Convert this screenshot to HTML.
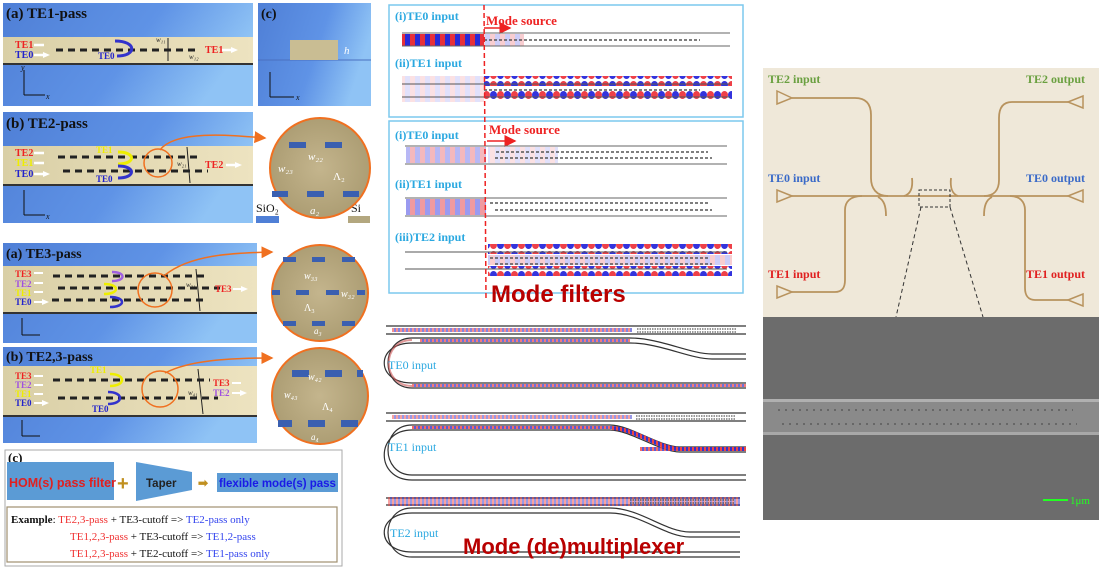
<!DOCTYPE html>
<html><head><meta charset="utf-8"><style>
html,body{margin:0;padding:0;background:#fff;}
svg{display:block}
text{font-family:"Liberation Serif",serif;}
.s{font-family:"Liberation Sans",sans-serif;}
</style></head><body>
<svg width="1102" height="571" viewBox="0 0 1102 571" xmlns="http://www.w3.org/2000/svg">
<defs>
<linearGradient id="bg" x1="0" y1="0" x2="1" y2="0.3">
<stop offset="0" stop-color="#4f7fd6"/><stop offset="0.6" stop-color="#5f93e6"/><stop offset="1" stop-color="#8fc3f5"/></linearGradient>
<linearGradient id="wg" x1="0" y1="0" x2="1" y2="0">
<stop offset="0" stop-color="#d9cfa6"/><stop offset="1" stop-color="#ede3c0"/></linearGradient>
<radialGradient id="cg" cx="0.5" cy="0.5" r="0.6"><stop offset="0" stop-color="#c4b58d"/><stop offset="1" stop-color="#a8996f"/></radialGradient>
<pattern id="f1" width="10" height="14" patternUnits="userSpaceOnUse">
<rect width="5" height="14" fill="#e8303a"/><rect x="5" width="5" height="14" fill="#2a2ad8"/></pattern>
<pattern id="f2" width="14" height="10" patternUnits="userSpaceOnUse">
<ellipse cx="3.5" cy="5" rx="3.5" ry="4" fill="#ee4048"/><ellipse cx="10.5" cy="5" rx="3.5" ry="4" fill="#3333dd"/></pattern>
<pattern id="f2b" width="14" height="10" patternUnits="userSpaceOnUse">
<ellipse cx="10.5" cy="5" rx="3.5" ry="4" fill="#ee4048"/><ellipse cx="3.5" cy="5" rx="3.5" ry="4" fill="#3333dd"/></pattern>
<pattern id="fw" width="10" height="8" patternUnits="userSpaceOnUse">
<rect width="5" height="8" fill="#f09aa0"/><rect x="5" width="5" height="8" fill="#9a9af0"/></pattern>
<pattern id="fs" width="4" height="6" patternUnits="userSpaceOnUse">
<rect width="2" height="6" fill="#e44"/><rect x="2" width="2" height="6" fill="#33c"/></pattern>
<marker id="ao" markerWidth="8" markerHeight="8" refX="7" refY="4" orient="auto"><path d="M0,0L8,4L0,8z" fill="#f07020"/></marker>
<marker id="ar" markerWidth="8" markerHeight="8" refX="7" refY="4" orient="auto"><path d="M0,0L8,4L0,8z" fill="#e22"/></marker>
<marker id="aw" markerUnits="userSpaceOnUse" markerWidth="7" markerHeight="6" refX="1" refY="3" orient="auto"><path d="M0,0L7,3L0,6z" fill="#fff"/></marker>
</defs>

<!-- (a) TE1-pass -->
<rect x="3" y="3" width="250" height="103" fill="url(#bg)"/>
<rect x="3" y="37" width="250" height="26" fill="url(#wg)"/><rect x="3" y="63" width="250" height="2" fill="#333"/>
<text x="6" y="18" font-size="15" font-weight="bold" fill="#111">(a) TE1-pass</text>
<line x1="56" y1="50" x2="200" y2="50" stroke="#222" stroke-width="3" stroke-dasharray="7,5"/>
<text x="15" y="48" font-size="10" font-weight="bold" fill="#e22">TE1</text><text x="15" y="58" font-size="10" font-weight="bold" fill="#22c">TE0</text>
<path d="M34,45h10M34,55h10" stroke="#fff" stroke-width="2.5" marker-end="url(#aw)"/>
<text x="98" y="59" font-size="9" font-weight="bold" fill="#22c">TE0</text><text x="205" y="53" font-size="10" font-weight="bold" fill="#e22">TE1</text>
<path d="M222,50h10" stroke="#fff" stroke-width="2.5" marker-end="url(#aw)"/>
<path d="M115,41c22,0 22,15 2,15" fill="none" stroke="#33c" stroke-width="3"/>
<line x1="168" y1="38" x2="168" y2="61" stroke="#222"/>
<text x="156" y="42" font-size="7" font-style="italic" fill="#222">w₁₁</text><text x="189" y="59" font-size="7" font-style="italic" fill="#222">w₁₂</text>
<path d="M24,95V70M24,95H45" stroke="#111" stroke-width="1"/><text x="46" y="99" font-size="8" font-style="italic" fill="#111">x</text><text x="21" y="70" font-size="8" font-style="italic" fill="#111">y</text>
<!-- (c) cross section -->
<rect x="258" y="3" width="113" height="103" fill="url(#bg)"/>
<line x1="258" y1="60" x2="371" y2="60" stroke="#4a70c0"/>
<rect x="290" y="40" width="48" height="20" fill="#c9bd93"/>
<text x="261" y="18" font-size="14" font-weight="bold" fill="#111">(c)</text>
<text x="344" y="54" font-size="11" font-style="italic" fill="#fff">h</text>
<path d="M270,97V72M270,97H294" stroke="#111"/><text x="296" y="100" font-size="8" font-style="italic" fill="#111">x</text>
<!-- (b) TE2-pass -->
<rect x="3" y="112" width="250" height="111" fill="url(#bg)"/>
<rect x="3" y="146" width="250" height="38" fill="url(#wg)"/><rect x="3" y="184" width="250" height="2" fill="#333"/>
<text x="6" y="128" font-size="15" font-weight="bold" fill="#111">(b) TE2-pass</text>
<line x1="58" y1="157" x2="200" y2="157" stroke="#222" stroke-width="3" stroke-dasharray="7,5"/>
<line x1="63" y1="171" x2="208" y2="171" stroke="#222" stroke-width="3" stroke-dasharray="7,5"/>
<text x="15" y="156" font-size="10" font-weight="bold" fill="#e22">TE2</text><text x="15" y="166" font-size="10" font-weight="bold" fill="#ee0">TE1</text><text x="15" y="177" font-size="10" font-weight="bold" fill="#22c">TE0</text>
<path d="M34,153h10M34,163h10M34,174h10" stroke="#fff" stroke-width="2.5" marker-end="url(#aw)"/>
<path d="M118,152c18,0 18,12 0,12" fill="none" stroke="#ee0" stroke-width="3"/>
<path d="M118,166c18,0 18,12 0,12" fill="none" stroke="#33c" stroke-width="3"/>
<text x="96" y="153" font-size="9" font-weight="bold" fill="#ee0">TE1</text><text x="96" y="182" font-size="9" font-weight="bold" fill="#22c">TE0</text>
<line x1="187" y1="147" x2="190" y2="183" stroke="#222"/><text x="177" y="166" font-size="7" font-style="italic" fill="#222">w₂₁</text>
<circle cx="158" cy="163" r="14" fill="none" stroke="#f07020" stroke-width="1.5"/>
<path d="M160,150C175,130 230,135 265,138" fill="none" stroke="#f07020" stroke-width="1.5" marker-end="url(#ao)"/>
<text x="205" y="168" font-size="10" font-weight="bold" fill="#e22">TE2</text>
<path d="M226,165h10" stroke="#fff" stroke-width="2.5" marker-end="url(#aw)"/>
<path d="M24,215V190M24,215H45" stroke="#111"/><text x="46" y="219" font-size="8" font-style="italic" fill="#111">x</text>
<!-- legend -->
<rect x="256" y="216" width="23" height="7" fill="#4f7fd6"/><rect x="348" y="216" width="22" height="7" fill="#b3a77f"/>
<text x="256" y="212" font-size="12" fill="#111">SiO₂</text><text x="351" y="212" font-size="12" fill="#111">Si</text>
<!-- circle 1 -->
<circle cx="320" cy="168" r="50" fill="url(#cg)" stroke="#f07020" stroke-width="2"/>
<rect x="289" y="142" width="17" height="6" fill="#3a5fb0"/><rect x="325" y="142" width="17" height="6" fill="#3a5fb0"/>
<rect x="272" y="191" width="16" height="6" fill="#3a5fb0"/><rect x="307" y="191" width="17" height="6" fill="#3a5fb0"/><rect x="343" y="191" width="16" height="6" fill="#3a5fb0"/>
<text x="308" y="160" font-size="11" font-style="italic" fill="#fff">w₂₂</text><text x="278" y="172" font-size="11" font-style="italic" fill="#fff">w₂₃</text>
<text x="333" y="180" font-size="11" fill="#fff">Λ₂</text><text x="310" y="214" font-size="11" font-style="italic" fill="#fff">a₂</text>

<!-- TE3-pass -->
<rect x="3" y="243" width="254" height="100" fill="url(#bg)"/>
<rect x="3" y="266" width="254" height="46" fill="url(#wg)"/><rect x="3" y="312" width="254" height="2" fill="#333"/>
<text x="6" y="258" font-size="14" font-weight="bold" fill="#111">(a) TE3-pass</text>
<line x1="53" y1="276" x2="205" y2="276" stroke="#222" stroke-width="3" stroke-dasharray="7,5"/>
<line x1="58" y1="288" x2="220" y2="288" stroke="#222" stroke-width="3" stroke-dasharray="7,5"/>
<line x1="52" y1="300" x2="205" y2="300" stroke="#222" stroke-width="3" stroke-dasharray="7,5"/>
<text x="15" y="277" font-size="9" font-weight="bold" fill="#e22">TE3</text><text x="15" y="287" font-size="9" font-weight="bold" fill="#a050e0">TE2</text><text x="15" y="296" font-size="9" font-weight="bold" fill="#ee0">TE1</text><text x="15" y="305" font-size="9" font-weight="bold" fill="#22c">TE0</text>
<path d="M34,273h9M34,283h9M34,292h9M34,302h9" stroke="#fff" stroke-width="2" marker-end="url(#aw)"/>
<path d="M112,272c14,0 14,9 0,9" fill="none" stroke="#a060e0" stroke-width="2.5"/>
<path d="M104,284c16,0 16,10 0,10" fill="none" stroke="#ee0" stroke-width="2.5"/>
<path d="M110,297c16,0 16,10 0,10" fill="none" stroke="#33c" stroke-width="2.5"/>
<line x1="196" y1="269" x2="200" y2="311" stroke="#222"/><text x="186" y="287" font-size="7" font-style="italic" fill="#222">w₃₁</text>
<circle cx="155" cy="290" r="17" fill="none" stroke="#f07020" stroke-width="1.5"/>
<path d="M165,275C190,255 230,253 272,252" fill="none" stroke="#f07020" stroke-width="1.5" marker-end="url(#ao)"/>
<text x="215" y="292" font-size="9" font-weight="bold" fill="#e22">TE3</text>
<path d="M233,289h9" stroke="#fff" stroke-width="2" marker-end="url(#aw)"/>
<path d="M22,335V318M22,335H40" stroke="#111"/>
<circle cx="320" cy="293" r="48" fill="url(#cg)" stroke="#f07020" stroke-width="2"/>
<g fill="#3a5fb0"><rect x="283" y="257" width="13" height="5"/><rect x="312" y="257" width="13" height="5"/><rect x="342" y="257" width="13" height="5"/>
<rect x="272" y="290" width="8" height="5"/><rect x="296" y="290" width="13" height="5"/><rect x="326" y="290" width="13" height="5"/><rect x="357" y="290" width="8" height="5"/>
<rect x="283" y="321" width="13" height="5"/><rect x="312" y="321" width="13" height="5"/><rect x="342" y="321" width="13" height="5"/></g>
<text x="304" y="279" font-size="10" font-style="italic" fill="#fff">w₃₃</text><text x="341" y="297" font-size="10" font-style="italic" fill="#fff">w₃₂</text><text x="304" y="311" font-size="10" fill="#fff">Λ₃</text><text x="314" y="334" font-size="9" font-style="italic" fill="#fff">a₃</text>

<!-- TE2,3-pass -->
<rect x="3" y="347" width="254" height="96" fill="url(#bg)"/>
<rect x="3" y="366" width="254" height="49" fill="url(#wg)"/><rect x="3" y="415" width="254" height="2" fill="#333"/>
<text x="6" y="361" font-size="14" font-weight="bold" fill="#111">(b) TE2,3-pass</text>
<line x1="53" y1="380" x2="210" y2="380" stroke="#222" stroke-width="3" stroke-dasharray="7,5"/>
<line x1="58" y1="398" x2="218" y2="398" stroke="#222" stroke-width="3" stroke-dasharray="7,5"/>
<text x="15" y="379" font-size="9" font-weight="bold" fill="#e22">TE3</text><text x="15" y="388" font-size="9" font-weight="bold" fill="#a050e0">TE2</text><text x="15" y="397" font-size="9" font-weight="bold" fill="#ee0">TE1</text><text x="15" y="406" font-size="9" font-weight="bold" fill="#22c">TE0</text>
<path d="M34,376h9M34,385h9M34,394h9M34,403h9" stroke="#fff" stroke-width="2" marker-end="url(#aw)"/>
<path d="M110,374c16,0 16,12 0,12" fill="none" stroke="#ee0" stroke-width="2.5"/><path d="M108,392c16,0 16,12 0,12" fill="none" stroke="#33c" stroke-width="2.5"/>
<text x="90" y="373" font-size="9" font-weight="bold" fill="#ee0">TE1</text><text x="92" y="412" font-size="9" font-weight="bold" fill="#22c">TE0</text>
<line x1="198" y1="369" x2="203" y2="414" stroke="#222"/><text x="188" y="395" font-size="7" font-style="italic" fill="#222">w₄₁</text>
<circle cx="160" cy="389" r="18" fill="none" stroke="#f07020" stroke-width="1.5"/>
<path d="M165,373C190,360 230,358 272,358" fill="none" stroke="#f07020" stroke-width="1.5" marker-end="url(#ao)"/>
<text x="213" y="386" font-size="9" font-weight="bold" fill="#e22">TE3</text><text x="213" y="396" font-size="9" font-weight="bold" fill="#a050e0">TE2</text>
<path d="M232,383h9M232,393h9" stroke="#fff" stroke-width="2" marker-end="url(#aw)"/>
<path d="M22,436V420M22,436H40" stroke="#111"/>
<circle cx="320" cy="396" r="48" fill="url(#cg)" stroke="#f07020" stroke-width="2"/>
<g fill="#3a5fb0"><rect x="292" y="370" width="17" height="7"/><rect x="325" y="370" width="17" height="7"/><rect x="357" y="370" width="6" height="7"/>
<rect x="278" y="420" width="14" height="7"/><rect x="308" y="420" width="17" height="7"/><rect x="341" y="420" width="17" height="7"/></g>
<text x="308" y="380" font-size="10" font-style="italic" fill="#fff">w₄₂</text><text x="284" y="398" font-size="10" font-style="italic" fill="#fff">w₄₃</text><text x="322" y="410" font-size="10" fill="#fff">Λ₄</text><text x="311" y="440" font-size="9" font-style="italic" fill="#fff">a₄</text>

<!-- (c) box -->
<rect x="5" y="450" width="337" height="116" fill="#fff" stroke="#aaa" stroke-width="1"/>
<text x="8" y="462" font-size="13" font-weight="bold" fill="#111">(c)</text>
<rect x="7" y="462" width="107" height="38" fill="#5b9bd5"/>
<text x="9" y="487" class="s" font-size="12.5" font-weight="bold" fill="#e02020">HOM(s) pass filter</text>
<text x="117" y="490" class="s" font-size="20" font-weight="bold" fill="#c09020">+</text>
<polygon points="136,462 192,472 192,490 136,501" fill="#5b9bd5"/>
<text x="146" y="487" class="s" font-size="11.5" font-weight="bold" fill="#222">Taper</text>
<text x="198" y="487" class="s" font-size="12" font-weight="bold" fill="#c09020">➡</text>
<rect x="217" y="473" width="121" height="19" fill="#5b9bd5"/>
<text x="219" y="487" class="s" font-size="11.5" font-weight="bold" fill="#1a1ae6">flexible mode(s) pass</text>
<rect x="7" y="507" width="330" height="55" fill="#fff" stroke="#a09070" stroke-width="1.2"/>
<text x="11" y="523" font-size="11" fill="#111"><tspan font-weight="bold">Example</tspan>: <tspan fill="#f03030">TE2,3-pass</tspan>  +  TE3-cutoff  =&gt; <tspan fill="#3344ee">TE2-pass only</tspan></text>
<text x="70" y="540" font-size="11" fill="#111"><tspan fill="#f03030">TE1,2,3-pass</tspan>  +  TE3-cutoff  =&gt; <tspan fill="#3344ee">TE1,2-pass</tspan></text>
<text x="70" y="557" font-size="11" fill="#111"><tspan fill="#f03030">TE1,2,3-pass</tspan>  +  TE2-cutoff  =&gt; <tspan fill="#3344ee">TE1-pass only</tspan></text>

<!-- middle mode filters -->
<rect x="389" y="5" width="354" height="112" fill="#fff" stroke="#7cc8ee" stroke-width="1.5"/>
<rect x="389" y="121" width="354" height="172" fill="#fff" stroke="#7cc8ee" stroke-width="1.5"/>
<g font-size="12" font-weight="bold" fill="#2aa8e0">
<text x="395" y="20">(i)TE0 input</text><text x="395" y="67">(ii)TE1 input</text>
<text x="395" y="139">(i)TE0 input</text><text x="395" y="188">(ii)TE1 input</text><text x="395" y="241">(iii)TE2 input</text></g>
<text x="486" y="25" font-size="13" font-weight="bold" fill="#e22">Mode source</text>
<text x="489" y="134" font-size="13" font-weight="bold" fill="#e22">Mode source</text>
<line x1="484" y1="28" x2="510" y2="28" stroke="#e22" stroke-width="1.5" marker-end="url(#ar)"/>
<line x1="487" y1="141" x2="515" y2="141" stroke="#e22" stroke-width="1.5" marker-end="url(#ar)"/>
<rect x="402" y="34" width="82" height="12" fill="url(#f1)"/>
<rect x="484" y="34" width="40" height="12" fill="url(#fw)" opacity="0.5"/>
<path d="M402,33H730M402,46H730" stroke="#666" stroke-width="1"/>
<line x1="484" y1="40" x2="700" y2="40" stroke="#555" stroke-width="1.5" stroke-dasharray="3,2"/>
<rect x="402" y="76" width="82" height="26" fill="url(#fw)" opacity="0.3"/>
<rect x="484" y="76" width="248" height="10" fill="url(#f2)"/><rect x="484" y="91" width="248" height="10" fill="url(#f2b)"/>
<path d="M402,84H730M402,97H730" stroke="#555" stroke-width="1"/>
<line x1="484" y1="90" x2="700" y2="90" stroke="#555" stroke-width="1.5" stroke-dasharray="3,2"/>

<rect x="406" y="147" width="80" height="16" fill="url(#fw)" opacity="0.7"/>
<rect x="488" y="147" width="70" height="16" fill="url(#fw)" opacity="0.3"/>
<path d="M405,146H727M405,164H727" stroke="#666" stroke-width="1"/>
<path d="M496,152H708M495,158H712" stroke="#555" stroke-width="1.5" stroke-dasharray="3,2"/>
<rect x="406" y="199" width="80" height="16" fill="url(#fw)"/>
<path d="M405,198H727M405,216H727" stroke="#666" stroke-width="1"/>
<path d="M490,203H708M495,210H712" stroke="#555" stroke-width="1.5" stroke-dasharray="3,2"/>
<rect x="488" y="244" width="244" height="10" fill="url(#f2)"/><rect x="488" y="266" width="244" height="10" fill="url(#f2b)"/>
<rect x="488" y="255" width="244" height="10" fill="url(#fw)" opacity="0.5"/>
<path d="M405,252H727M405,269H727" stroke="#555" stroke-width="1"/>
<path d="M490,258H708M495,264H712" stroke="#555" stroke-width="1.5" stroke-dasharray="3,2"/>
<line x1="484" y1="5" x2="486" y2="300" stroke="#e22" stroke-width="1.5" stroke-dasharray="5,3"/>
<text x="491" y="302" class="s" font-size="24" font-weight="bold" fill="#b80000">Mode filters</text>

<!-- multiplexer -->
<g fill="none" stroke="#333" stroke-width="1.2">
<path d="M386,326H746M386,334H746"/>
<path d="M746,354H712C690,354 660,338 630,338H412C380,338 380,388 412,388H746"/>
<path d="M746,359H712C690,359 660,343 630,343H412C375,343 375,383 412,383H746"/>
<path d="M386,413H746M386,421H746"/>
<path d="M746,447H680C660,447 630,425 610,425H412C380,425 380,475 412,475H746"/>
<path d="M746,452H680C660,452 630,430 610,430H412C375,430 375,480 412,480H746"/>
<path d="M386,498H740M386,505H740"/>
<path d="M740,532H690C665,532 640,508 610,508H412C380,508 380,557 412,557H740"/>
<path d="M740,537H690C665,537 640,513 610,513H412C375,513 375,552 412,552H740"/>
</g>
<rect x="392" y="328" width="240" height="4" fill="url(#fs)" opacity="0.6"/>
<rect x="420" y="339" width="210" height="3" fill="url(#fs)" opacity="0.7"/>
<rect x="412" y="384" width="334" height="3" fill="url(#fs)" opacity="0.7"/>
<path d="M412,340C381,340 381,386 412,386" fill="none" stroke="#c55" stroke-width="2" opacity="0.6"/>
<rect x="392" y="415" width="240" height="4" fill="url(#fs)" opacity="0.5"/>
<rect x="412" y="426" width="200" height="3" fill="url(#fs)" opacity="0.8"/>
<path d="M612,428C632,428 660,449 680,449H746" fill="none" stroke="url(#fs)" stroke-width="4"/>
<rect x="640" y="447" width="106" height="4" fill="url(#fs)" opacity="0.8"/>
<rect x="388" y="497" width="352" height="9" fill="url(#fs)" opacity="0.5"/>
<path d="M637,329H736M637,332H736M636,416H736M636,419H736M630,500H734M630,503H734" stroke="#333" stroke-width="1" stroke-dasharray="1.5,1"/>
<g font-size="12" fill="#2aa8e0"><text x="388" y="369">TE0 input</text><text x="388" y="451">TE1 input</text><text x="390" y="537">TE2 input</text></g>
<text x="463" y="554" class="s" font-size="22" font-weight="bold" fill="#b80000">Mode (de)multiplexer</text>

<!-- right photo -->
<rect x="763" y="68" width="336" height="249" fill="#efe8d9"/>
<g fill="none" stroke="#b8935e" stroke-width="1.8">
<path d="M792,98H855C866,98 871,104 871,115V178C871,188 876,196 888,196"/>
<path d="M878,197C884,200 886,206 886,216"/>
<path d="M792,196H1068"/>
<path d="M792,292H835C842,292 845,288 845,280V210C845,202 850,196 862,196"/>
<path d="M904,196C911,194 913,187 912,178M958,196C952,194 950,187 951,178"/>
<path d="M1068,102H1012C1003,102 999,108 999,118V180C999,190 994,196 984,196"/>
<path d="M992,197C986,200 984,206 984,216"/>
<path d="M1068,300H1035C1028,300 1025,295 1025,288V210C1025,202 1020,196 1010,196"/>
</g>
<g fill="none" stroke="#b8935e" stroke-width="1.5">
<path d="M792,98L777,91V104Z"/><path d="M792,196L777,190V202Z"/><path d="M792,292L777,286V298Z"/>
<path d="M1068,102L1083,96V108Z"/><path d="M1068,196L1083,190V202Z"/><path d="M1068,300L1083,294V306Z"/></g>
<rect x="919" y="190" width="31" height="17" fill="none" stroke="#333" stroke-dasharray="3,2"/>
<path d="M921,207L896,317M950,207L983,317" stroke="#333" stroke-dasharray="4,3"/>
<g font-size="12" font-weight="bold">
<text x="768" y="83" fill="#6aa040">TE2 input</text><text x="1026" y="83" fill="#6aa040">TE2 output</text>
<text x="768" y="182" fill="#3a6ac8">TE0 input</text><text x="1026" y="182" fill="#3a6ac8">TE0 output</text>
<text x="768" y="278" fill="#e02020">TE1 input</text><text x="1026" y="278" fill="#e02020">TE1 output</text></g>
<!-- SEM -->
<rect x="763" y="317" width="336" height="203" fill="#6c6c6c"/>
<rect x="763" y="399" width="336" height="36" fill="#8a8a8a"/>
<rect x="763" y="399" width="336" height="3" fill="#b0b0b0"/><rect x="763" y="432" width="336" height="3" fill="#a8a8a8"/>
<path d="M778,410H1073M782,424H1077" stroke="#444" stroke-width="1" stroke-dasharray="2,5"/>
<line x1="1043" y1="500" x2="1068" y2="500" stroke="#22ff22" stroke-width="2"/>
<text x="1070" y="504" font-size="11" fill="#22ff22">1μm</text>
</svg>
</body></html>
